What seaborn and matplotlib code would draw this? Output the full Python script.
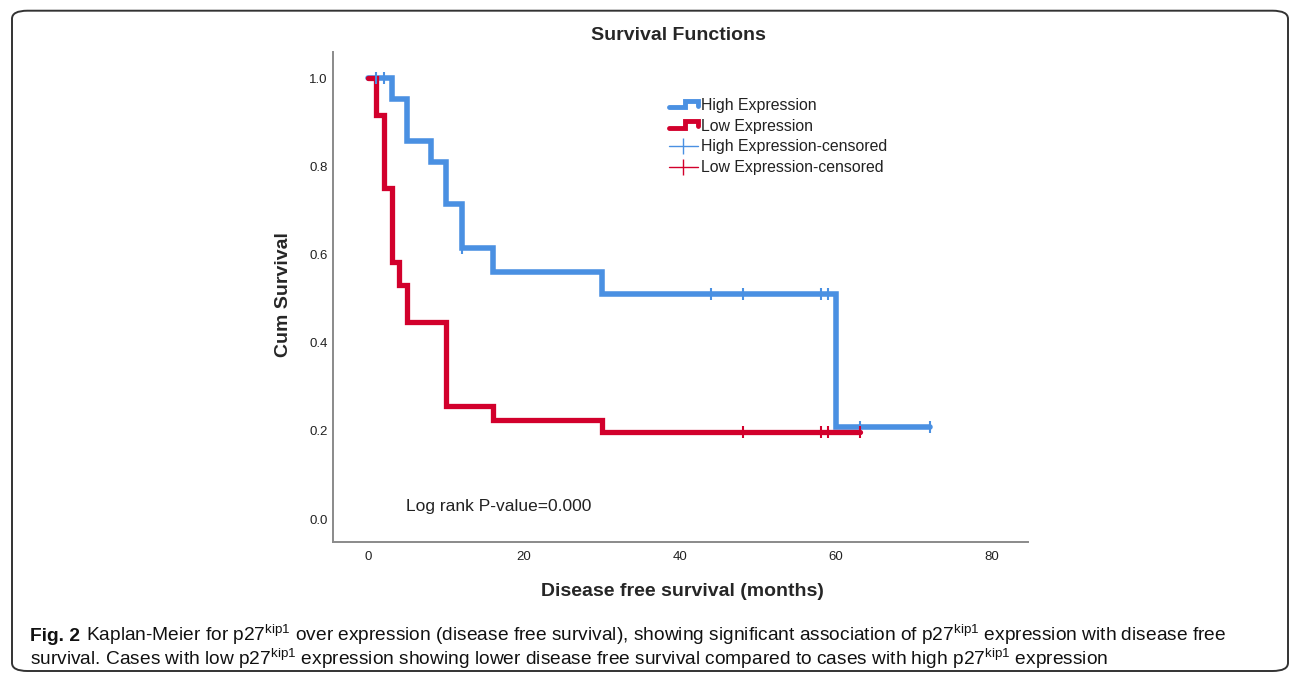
import numpy as np
import pandas as pd
import matplotlib
matplotlib.use('Agg')
import matplotlib.pyplot as plt
import seaborn as sns
from matplotlib import font_manager
from matplotlib.lines import Line2D
from matplotlib.legend_handler import HandlerBase
from matplotlib.patches import FancyBboxPatch

# Kaplan-Meier steps (months, cum survival)
high_time = [0, 3, 5, 8, 10, 12, 16, 30, 60, 72]
high_surv = [1.0, 0.952, 0.857, 0.81, 0.714, 0.615, 0.56, 0.511, 0.208, 0.208]
low_time = [0, 1, 2, 3, 4, 5, 10, 16, 30, 63]
low_surv = [1.0, 0.917, 0.75, 0.583, 0.531, 0.448, 0.256, 0.224, 0.197, 0.197]

# censored cases
high_cens_time = [1, 2, 12, 44, 48, 58, 59, 63, 72]
high_cens_surv = [1.0, 1.0, 0.615, 0.511, 0.511, 0.511, 0.511, 0.208, 0.208]
low_cens_time = [48, 58, 59, 63]
low_cens_surv = [0.197, 0.197, 0.197, 0.197]

x_ticks = [0, 20, 40, 60, 80]
y_ticks = [0.0, 0.2, 0.4, 0.6, 0.8, 1.0]

blue = '#4a90e2'
red = '#d2002c'

sns.set_style('white')
plt.rcParams['font.family'] = ['Liberation Sans', 'DejaVu Sans']

avail = {f.name for f in font_manager.fontManager.ttflist}
cap_font = 'Liberation Sans Narrow' if 'Liberation Sans Narrow' in avail else 'Liberation Sans'
plt.rcParams['mathtext.fontset'] = 'custom'
plt.rcParams['mathtext.rm'] = cap_font
plt.rcParams['mathtext.bf'] = cap_font + ':bold'

W, H = 1292, 674
fig = plt.figure(figsize=(W / 100, H / 100), dpi=100)
ax = fig.add_axes([333 / W, 1 - 541.7 / H, (1028 - 333) / W, (541.7 - 52) / H])

high_df = pd.DataFrame({'time': high_time, 'surv': high_surv})
low_df = pd.DataFrame({'time': low_time, 'surv': low_surv})

sns.lineplot(data=high_df, x='time', y='surv', drawstyle='steps-post', estimator=None,
             sort=False, color=blue, lw=4, solid_joinstyle='miter', ax=ax, zorder=2)
sns.lineplot(data=low_df, x='time', y='surv', drawstyle='steps-post', estimator=None,
             sort=False, color=red, lw=3.8, solid_joinstyle='miter', ax=ax, zorder=3)
ax.plot(high_cens_time, high_cens_surv, ls='none', marker='|', ms=8, mew=1.5, color=blue, zorder=4)
ax.plot(low_cens_time, low_cens_surv, ls='none', marker='|', ms=8, mew=1.5, color=red, zorder=4)

ax.set_xlim(-4.5, 84.6)
ax.set_ylim(-0.051, 1.059)
ax.set_xticks(x_ticks)
ax.set_yticks(y_ticks)
ax.set_yticklabels([f'{v:.1f}' for v in y_ticks])
ax.tick_params(length=0, labelsize=9.5, colors='#222222')
ax.tick_params(axis='x', pad=7)
ax.tick_params(axis='y', pad=4)
ax.set_xlabel('')
ax.set_ylabel('')
for s in ['top', 'right']:
    ax.spines[s].set_visible(False)
for s in ['left', 'bottom']:
    ax.spines[s].set_color('#8a8a8a')
    ax.spines[s].set_linewidth(1.4)

fig.text(406 / W, 1 - 506 / H, 'Log rank P-value=0.000', fontsize=12.5,
         ha='left', va='center', color='#222222')


class StepHandler(HandlerBase):
    def create_artists(self, legend, orig_handle, xdescent, ydescent, width, height, fontsize, trans):
        fx = np.array([0, 0.55, 0.55, 1.0, 1.0])
        fy = np.array([0.25, 0.25, 0.85, 0.85, 0.4])
        line = Line2D(-xdescent + fx * width, -ydescent + fy * height,
                      color=orig_handle.get_color(), lw=orig_handle.get_linewidth(),
                      solid_joinstyle='miter')
        line.set_transform(trans)
        return [line]


h_high = Line2D([], [], color=blue, lw=3.5)
h_low = Line2D([], [], color=red, lw=3.5)
h_high_c = Line2D([], [], color=blue, lw=1, marker='|', ms=11, mew=1)
h_low_c = Line2D([], [], color=red, lw=1, marker='|', ms=11, mew=1)
leg = ax.legend([h_high, h_low, h_high_c, h_low_c],
                ['High Expression', 'Low Expression', 'High Expression-censored', 'Low Expression-censored'],
                handler_map={h_high: StepHandler(), h_low: StepHandler()},
                loc='upper left', bbox_to_anchor=(669 / W, 1 - 98 / H), bbox_transform=fig.transFigure,
                frameon=False, fontsize=11.4, borderpad=0, borderaxespad=0,
                handlelength=1.8, handletextpad=0.25, labelspacing=0.36)
for t in leg.get_texts():
    t.set_color('#222222')

fig.text(678 / W, 1 - 36 / H, 'Survival Functions', fontsize=14, fontweight='bold',
         ha='center', va='center')
fig.text(283 / W, 1 - 295 / H, 'Cum Survival', fontsize=14, fontweight='bold',
         rotation=90, ha='center', va='center')
fig.text(682 / W, 1 - 592 / H, 'Disease free survival (months)', fontsize=14, fontweight='bold',
         ha='center', va='center')

# caption: bold "Fig. 2" then the rest, fitted to the width of the reference line
cap_head = 'Fig. 2'
cap1 = (r'Kaplan-Meier for p27$^{\mathrm{kip1}}$ over expression (disease free survival), '
        r'showing significant association of p27$^{\mathrm{kip1}}$ expression with disease free')
cap2 = (r'survival. Cases with low p27$^{\mathrm{kip1}}$ expression showing lower disease free survival '
        r'compared to cases with high p27$^{\mathrm{kip1}}$ expression')
x0 = 30
fs = 11.5
th = fig.text(x0 / W, 1 - 641 / H, cap_head, fontsize=fs, family=cap_font, fontweight='bold',
              ha='left', va='baseline', color='#111111')
t1 = fig.text(0, 1 - 641 / H, cap1, fontsize=fs, family=cap_font, ha='left', va='baseline', color='#111111')
fig.canvas.draw()
total = th.get_window_extent().width + 0.3 * fs + t1.get_window_extent().width
fs = fs * (1225 - x0) / total
th.set_fontsize(fs)
t1.set_fontsize(fs)
fig.canvas.draw()
t1.set_x((x0 + th.get_window_extent().width + 0.3 * fs * 100 / 72) / W)
fig.text(x0 / W, 1 - 665 / H, cap2, fontsize=fs, family=cap_font, ha='left', va='baseline', color='#111111')

frame = FancyBboxPatch((12 / W, 1 - 671 / H), (1288 - 12) / W, (671 - 10.7) / H,
                       boxstyle='round,pad=0,rounding_size=0.012', transform=fig.transFigure,
                       fill=False, edgecolor='#333333', lw=1.4)
fig.patches.append(frame)

fig.savefig('out.png', dpi=100)
